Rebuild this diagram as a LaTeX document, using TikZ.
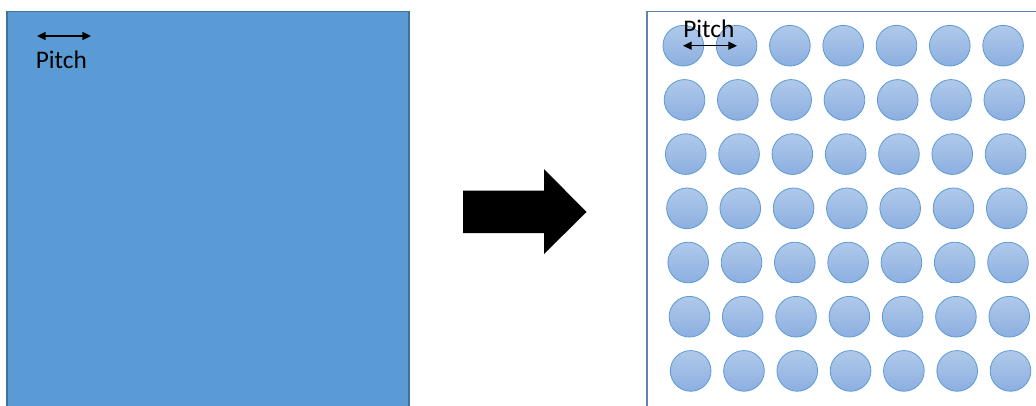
\documentclass[tikz,border=0pt]{standalone}
\usepackage{fontspec}
\setmainfont{Carlito}
\usetikzlibrary{arrows.meta}
\definecolor{sqfill}{HTML}{5B9BD5}
\definecolor{sqedge}{HTML}{41719C}
\definecolor{boxedge}{HTML}{5F82B2}
\definecolor{ctop}{HTML}{B0C9EA}
\definecolor{cbot}{HTML}{8CAFE0}
\definecolor{cedge}{HTML}{5B9BD5}
\tikzset{
  dot/.style={circle, minimum size=30.5pt, inner sep=0pt, draw=cedge, line width=0.6pt, top color=ctop, bottom color=cbot},
  pitcharrow/.style={{Triangle[length=6.5pt,width=6pt]}-{Triangle[length=6.5pt,width=6pt]}, line width=1.1pt, black},
  lbl/.style={font=\fontsize{19}{20}\selectfont, inner sep=0pt, anchor=base west}
}
\begin{document}
\begin{tikzpicture}[x=0.75pt,y=-0.75pt]
\useasboundingbox (0,0) rectangle (1036,405);
% left square
\fill[sqfill] (7,11.5) rectangle (409,420);
\draw[sqedge, line width=0.9pt] (7,420) -- (7,11.5) -- (409,11.5) -- (409,420);
\coordinate (pl1) at (37,36);
\coordinate (pl2) at (91,36);
\draw[pitcharrow] (pl1) -- (pl2);
\node[lbl] (plt) at (35.5,68.5) {Pitch};
% block arrow
\fill[black] (463,190.5) -- (544,190.5) -- (544,169) -- (586.5,212) -- (544,254) -- (544,233) -- (463,233) -- cycle;
% right box
\draw[boxedge, line width=1.1pt] (647,420) -- (647,11.5) -- (1045,11.5);
% circles
\foreach \r in {0,...,6}{
  \foreach \c in {0,...,6}{
    \node[dot] (c-\r-\c) at ({683.3+1.23*\r+53.3*\c},{45.7+54.2*\r}) {};
  }
}
\coordinate (pr1) at (683,45.7);
\coordinate (pr2) at (737,45.7);
\draw[pitcharrow] (pr1) -- (pr2);
\node[lbl] (prt) at (683,37) {Pitch};
\end{tikzpicture}
\end{document}
